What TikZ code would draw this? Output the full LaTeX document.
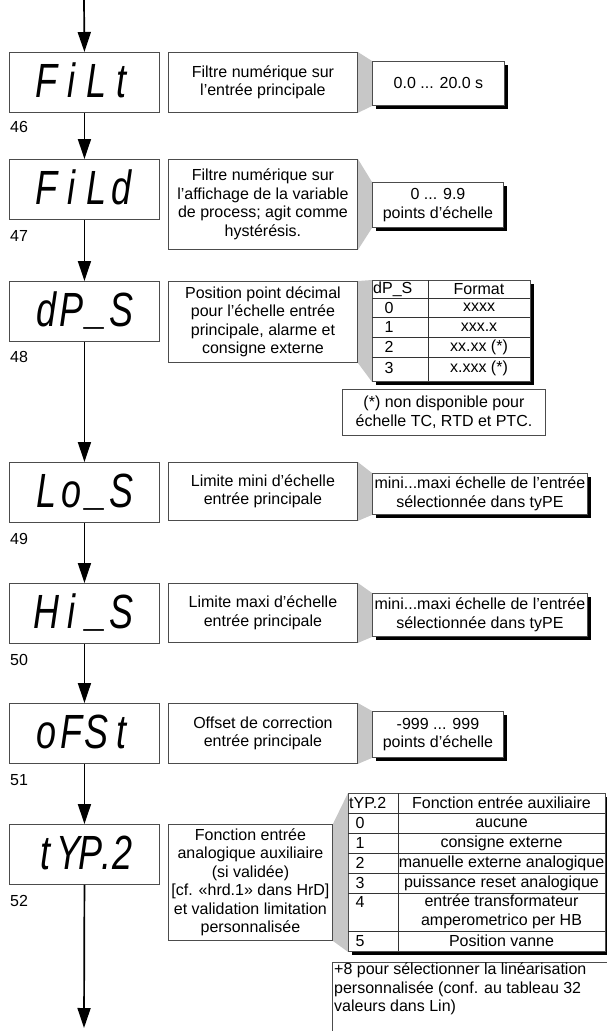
\documentclass[tikz,border=0pt]{standalone}
\usepackage{fontspec}
\usepackage{graphicx}
\setmainfont{Liberation Sans}
\usetikzlibrary{arrows.meta,shadows,backgrounds}
\newcommand\dg[1]{\makebox[33pt]{#1}}
\newcommand\us{\raisebox{3pt}{\_}}
\tikzset{
  every node/.style={font=\fontsize{16}{18.5}\selectfont, inner sep=0pt},
  disp/.style={draw=black!70, line width=0.9pt, fill=white, anchor=north west, minimum width=150pt, minimum height=60pt},
  dtext/.style={anchor=base, font=\fontsize{48}{48}\selectfont\itshape},
  tbox/.style={draw=black!70, line width=0.9pt, fill=white, anchor=north west, align=center},
  vbox/.style={draw=black!70, line width=0.9pt, fill=white, anchor=north west, align=center,
     drop shadow={shadow xshift=4pt, shadow yshift=-4pt, fill=black, opacity=1}},
  lab/.style={anchor=west},
  wedge/.style={fill=black!22},
  flow/.style={line width=1.7pt, -{Triangle[length=20pt,width=13pt]}},
  tl/.style={line width=0.7pt, black!80},
  bl/.style={line width=0.9pt, black!70}
}
\begin{document}
\begin{tikzpicture}[x=1pt,y=-1pt]
\useasboundingbox (0,0) rectangle (607,1031);
% displays
\node[disp] (d1) at (9,52) {};
\node[disp] (d2) at (9,159) {};
\node[disp] (d3) at (9,281) {};
\node[disp] (d4) at (9,462) {};
\node[disp] (d5) at (9,583) {};
\node[disp] (d6) at (9,703) {};
\node[disp] (d7) at (9,824) {};
\node[dtext] (d1t) at (84,97) {\scalebox{0.75}[1]{\dg{F}\dg{i}\dg{L}\dg{t}}};
\node[dtext] (d2t) at (84,204) {\scalebox{0.75}[1]{\dg{F}\dg{i}\dg{L}\dg{d}}};
\node[dtext] (d3t) at (84,326) {\scalebox{0.75}[1]{\dg{d}\dg{P}\dg{\us}\dg{S}}};
\node[dtext] (d4t) at (84,507) {\scalebox{0.75}[1]{\dg{L}\dg{o}\dg{\us}\dg{S}}};
\node[dtext] (d5t) at (84,628) {\scalebox{0.75}[1]{\dg{H}\dg{i}\dg{\us}\dg{S}}};
\node[dtext] (d6t) at (84,748) {\scalebox{0.75}[1]{\dg{o}\dg{F}\dg{S}\dg{t}}};
\node[dtext] (d7t) at (84,869) {\scalebox{0.75}[1]{\makebox[30pt]{t}\makebox[30pt]{Y}\makebox[30pt]{P}\makebox[12pt]{.}\makebox[30pt]{2}}};
% labels
\node[lab] (l46) at (10,127) {46};
\node[lab] (l47) at (10,236) {47};
\node[lab] (l48) at (10,357) {48};
\node[lab] (l49) at (10,539) {49};
\node[lab] (l50) at (10,660) {50};
\node[lab] (l51) at (10,780) {51};
\node[lab] (l52) at (10,901) {52};
% flow arrows
\coordinate (top) at (84,0);
\coordinate (bot) at (84,1028);
\draw[flow] (top) -- (d1.north);
\draw[flow] (d1.south) -- (d2.north);
\draw[flow] (d2.south) -- (d3.north);
\draw[flow] (d3.south) -- (d4.north);
\draw[flow] (d4.south) -- (d5.north);
\draw[flow] (d5.south) -- (d6.north);
\draw[flow] (d6.south) -- (d7.north);
\draw[flow] (d7.south) -- (bot);
% text boxes
\node[tbox, minimum width=189pt, minimum height=60pt] (t1) at (168,52) {Filtre numérique sur\\l’entrée principale};
\node[tbox, minimum width=189pt, minimum height=90pt] (t2) at (168,159) {Filtre numérique sur\\l’affichage de la variable\\de process; agit comme\\hystérésis.};
\node[tbox, minimum width=189pt, minimum height=81pt] (t3) at (168,281) {Position point décimal\\pour l’échelle entrée\\principale, alarme et\\consigne externe};
\node[tbox, minimum width=189pt, minimum height=58pt] (t4) at (168,462) {Limite mini d’échelle\\entrée principale};
\node[tbox, minimum width=189pt, minimum height=59pt] (t5) at (168,583) {Limite maxi d’échelle\\entrée principale};
\node[tbox, minimum width=189pt, minimum height=60pt] (t6) at (168,703) {Offset de correction\\entrée principale};
\node[tbox, minimum width=164pt, minimum height=116pt] (t7) at (168,824) {Fonction entrée\\analogique auxiliaire\\(si validée)\\{[}cf. «hrd.1» dans HrD{]}\\et validation limitation\\personnalisée};
% value boxes
\node[vbox, minimum width=132pt, minimum height=44pt] (v1) at (372,61) {0.0 ... 20.0 s};
\node[vbox, minimum width=131pt, minimum height=45pt] (v2) at (372,182) {0 ... 9.9\\points d’échelle};
\node[vbox, minimum width=158pt, minimum height=101pt] (v3) at (372,280) {};
\node[tbox, minimum width=203pt, minimum height=46pt] (f3) at (342,389) {(*) non disponible pour\\échelle TC, RTD et PTC.};
\node[vbox, minimum width=215pt, minimum height=41pt] (v4) at (372,473) {mini...maxi échelle de l’entrée\\sélectionnée dans tyPE};
\node[vbox, minimum width=215pt, minimum height=43pt] (v5) at (372,593) {mini...maxi échelle de l’entrée\\sélectionnée dans tyPE};
\node[vbox, minimum width=131pt, minimum height=46pt] (v6) at (372,711) {-999 ... 999\\points d’échelle};
\node[vbox, minimum width=257pt, minimum height=158pt] (v7) at (348,793) {};
% footnote of table 7 (box runs past the page edge)
\draw[bl] (332,1040) -- (332,962) -- (615,962);
\node[anchor=north west, align=left] (f7) at (334,963) {+8 pour sélectionner la linéarisation\\personnalisée (conf. au tableau 32\\valeurs dans Lin)};
% wedges
\begin{scope}[on background layer]
\fill[wedge] (t1.north east) -- (v1.north west) -- (v1.south west) -- (t1.south east) -- cycle;
\fill[wedge] (t2.north east) -- (v2.north west) -- (v2.south west) -- (t2.south east) -- cycle;
\fill[wedge] (t3.north east) -- (v3.north west) -- (v3.south west) -- (t3.south east) -- cycle;
\fill[wedge] (t4.north east) -- (v4.north west) -- (v4.south west) -- (t4.south east) -- cycle;
\fill[wedge] (t5.north east) -- (v5.north west) -- (v5.south west) -- (t5.south east) -- cycle;
\fill[wedge] (t6.north east) -- (v6.north west) -- (v6.south west) -- (t6.south east) -- cycle;
\fill[wedge] (t7.north east) -- (v7.north west) -- (v7.south west) -- (t7.south east) -- cycle;
\end{scope}
% table 3
\draw[tl] (428,280) -- (428,381);
\foreach \yy in {298,317,337,357} \draw[tl] (372,\yy) -- (530,\yy);
\node[anchor=west] (h3a) at (373,289) {dP\_S};
\node (h3b) at (479,289) {Format};
\node (r3a0) at (389,307.5) {0};
\node (r3a1) at (389,327) {1};
\node (r3a2) at (389,347) {2};
\node (r3a3) at (389,368) {3};
\node (r3b0) at (479,307.5) {xxxx};
\node (r3b1) at (479,327) {xxx.x};
\node (r3b2) at (479,347) {xx.xx (*)};
\node (r3b3) at (479,368) {x.xxx (*)};
% table 7
\draw[tl] (398,793) -- (398,951);
\foreach \yy in {813,833,853,873,893,931} \draw[tl] (348,\yy) -- (605,\yy);
\node[anchor=west] (h7a) at (349,803) {tYP.2};
\node (h7b) at (501.5,803) {Fonction entrée auxiliaire};
\node (r7a0) at (360,823) {0};
\node (r7a1) at (360,843) {1};
\node (r7a2) at (360,863) {2};
\node (r7a3) at (360,883) {3};
\node (r7a4) at (360,902) {4};
\node (r7a5) at (360,941) {5};
\node (r7b0) at (501.5,823) {aucune};
\node (r7b1) at (501.5,843) {consigne externe};
\node (r7b2) at (501.5,863) {manuelle externe analogique};
\node (r7b3) at (501.5,883) {puissance reset analogique};
\node[align=center] (r7b4) at (501.5,912) {entrée transformateur\\amperometrico per HB};
\node (r7b5) at (501.5,941) {Position vanne};
\end{tikzpicture}
\end{document}
